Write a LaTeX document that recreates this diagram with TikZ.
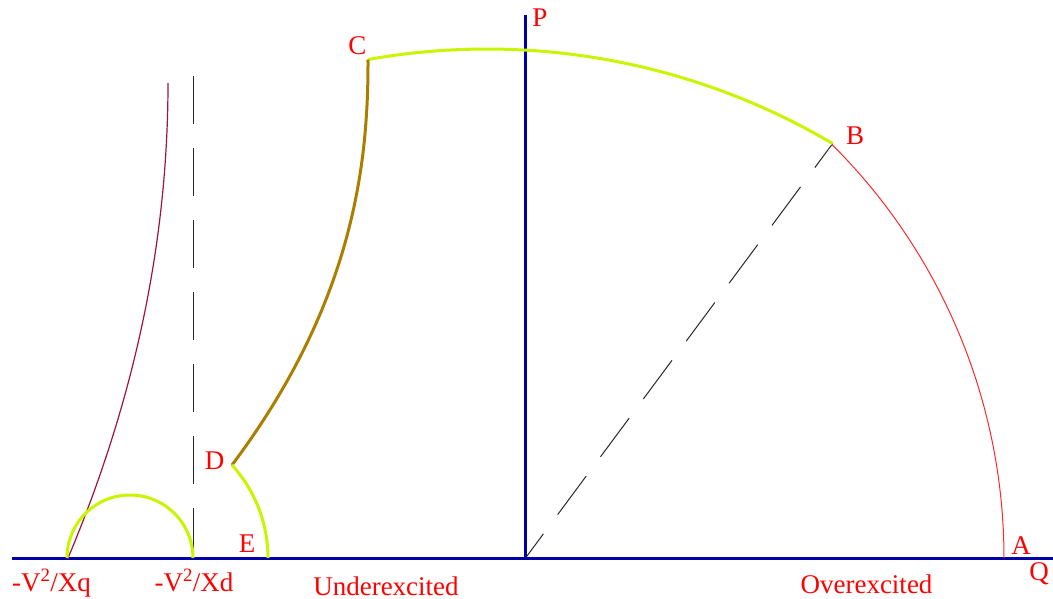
\documentclass[tikz,border=0pt]{standalone}
\usepackage{fontspec}
\setmainfont{Liberation Serif}
\definecolor{axisblue}{RGB}{0,0,168}
\definecolor{limgreen}{RGB}{200,245,0}
\definecolor{limbrown}{RGB}{172,126,0}
\definecolor{limred}{RGB}{255,40,40}
\definecolor{limpurple}{RGB}{160,20,60}
\definecolor{lblred}{RGB}{255,0,0}
\definecolor{dashgray}{RGB}{40,40,40}
\tikzset{
  axisline/.style={draw=axisblue,line width=3pt},
  greencurve/.style={draw=limgreen,line width=3pt},
  browncurve/.style={draw=limbrown,line width=3pt,line join=round},
  redcurve/.style={draw=limred,line width=1pt},
  purplecurve/.style={draw=limpurple,line width=1.2pt},
  dashline/.style={draw=dashgray,line width=1pt,dash pattern=on 48pt off 24pt},
  lbl/.style={text=lblred,inner sep=0pt,anchor=base,font=\fontsize{27}{30}\selectfont}
}
\begin{document}
\begin{tikzpicture}[x=1pt,y=-1pt]
\useasboundingbox (0,0) rectangle (1053,599);
% key points
\coordinate (O) at (525.5,558);
\coordinate (Qleft) at (12,558);
\coordinate (Qright) at (1053,558);
\coordinate (Ptop) at (525.5,15);
\coordinate (A) at (1004,558);
\coordinate (B) at ({487+679*cos(59.4)},{728-679*sin(59.4)});
\coordinate (C) at ({487+679*cos(100.1)},{728-679*sin(100.1)});
\coordinate (D) at ({130+138*cos(42.4)},{558-138*sin(42.4)});
\coordinate (E) at (268,558);
\coordinate (Xq) at (67,558);
\coordinate (Xd) at (193,558);
\coordinate (Xdtop) at (193,76);
\coordinate (Xqtop) at (168,83);
% axes
\draw[axisline] (Qleft) -- (Qright);
\draw[axisline] (O) -- (Ptop);
% dashed lines
\draw[dashline,dash phase=18pt] (O) -- (B);
\draw[dashline] (Xdtop) -- (Xd);
% stability-limit curve (left)
\draw[purplecurve] (Xqtop) -- plot[domain=84:558,samples=80] ({168-4.43*((\x-83)/100)^2},\x) -- (Xq);
% small semicircle
\draw[greencurve] plot[domain=0:180,samples=60] ({130+63*cos(\x)},{558-63*sin(\x)});
% red arc A-B
\draw[redcurve] plot[domain=0:45.2,samples=80] ({421+583*cos(\x)},{558-583*sin(\x)});
% green arc B-C
\draw[greencurve] plot[domain=59.4:100.1,samples=80] ({487+679*cos(\x)},{728-679*sin(\x)});
% brown curve C-D
\draw[browncurve] (C) -- plot[domain=62:465,samples=90] ({368-136*((\x-61)/404)^2.23},\x) -- (D);
% green arc D-E
\draw[greencurve] plot[domain=0:42.4,samples=50] ({130+138*cos(\x)},{558-138*sin(\x)});
% labels
\node[lbl] (labP) at (540,27) {P};
\node[lbl] (labQ) at (1039,580) {Q};
\node[lbl] (labA) at (1021,554) {A};
\node[lbl] (labB) at (855,145) {B};
\node[lbl] (labC) at (357.5,55) {C};
\node[lbl] (labD) at (214.5,469) {D};
\node[lbl] (labE) at (247,552) {E};
\node[lbl] (labXq) at (51.5,591) {-V\textsuperscript{2}/Xq};
\node[lbl] (labXd) at (194,591) {-V\textsuperscript{2}/Xd};
\node[lbl] (labU) at (386,595) {Underexcited};
\node[lbl] (labO) at (866.5,593) {Overexcited};
\end{tikzpicture}
\end{document}
